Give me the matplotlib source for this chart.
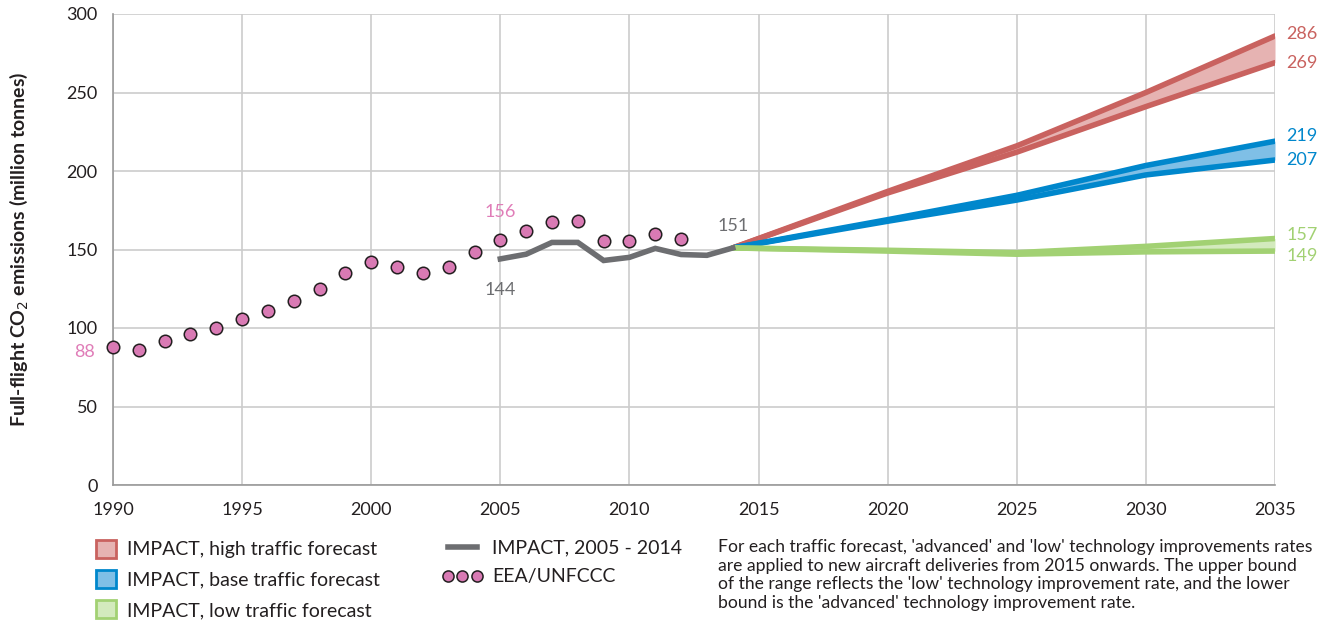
import matplotlib
matplotlib.use("Agg")
import matplotlib.pyplot as plt
from matplotlib.patches import Patch
from matplotlib.lines import Line2D

plt.rcParams['font.family'] = ['Lato', 'DejaVu Sans']

# EEA/UNFCCC historical
eea_years = list(range(1990, 2013))
eea_vals = [88, 86, 92, 96, 100, 106, 111, 117, 125, 135, 142, 139, 135, 139,
            148.5, 156, 162, 167.5, 168, 155.5, 155.5, 160, 157]

# IMPACT 2005-2014
imp_years = list(range(2005, 2015))
imp_vals = [144, 147, 154.5, 154.5, 143, 145, 150.7, 146.8, 146.3, 151]

# Forecasts
fc_years = [2014, 2020, 2025, 2030, 2035]
high_up = [151, 187, 216, 250, 286]
high_lo = [151, 186, 212, 241, 269]
base_up = [151, 169, 184.5, 203.5, 219]
base_lo = [151, 168, 181.5, 197.5, 207]
low_up = [151, 149.5, 148, 152, 157]
low_lo = [151, 149, 147, 148.5, 149]

x_ticks = [1990, 1995, 2000, 2005, 2010, 2015, 2020, 2025, 2030, 2035]
y_ticks = [0, 50, 100, 150, 200, 250, 300]

RED, RED_F = '#C9625F', '#E6B3B2'
BLUE, BLUE_F = '#0087CC', '#7FBFE6'
GREEN, GREEN_F = '#A2D173', '#D3EABD'
PINK, PINK_T = '#D97AB4', '#E07DB8'
GRAY = '#6D6E71'
TXT = '#231F20'

fig = plt.figure(figsize=(13.26, 6.25), dpi=100)
ax = fig.add_axes([113/1326, 1-485/625, (1275-113)/1326, (485-14)/625])

ax.set_xlim(1990, 2035)
ax.set_ylim(0, 300)
ax.set_xticks(x_ticks)
ax.set_yticks(y_ticks)
ax.grid(True, color='#CCCCCC', lw=1.2)
ax.set_axisbelow(True)
for s in ['top', 'right']:
    ax.spines[s].set_visible(False)
for s in ['left', 'bottom']:
    ax.spines[s].set_color('#999999')
    ax.spines[s].set_linewidth(1.2)
ax.tick_params(length=0, labelsize=13, colors=TXT)
ax.tick_params(axis='x', pad=12)
ax.tick_params(axis='y', pad=11)
ax.set_ylabel('Full-flight CO$_2$ emissions (million tonnes)', fontsize=14,
              fontweight='bold', color=TXT)
ax.yaxis.set_label_coords(-(113-30)/1162, 0.5)

for up, lo, c, f in [(high_up, high_lo, RED, RED_F), (base_up, base_lo, BLUE, BLUE_F),
                     (low_up, low_lo, GREEN, GREEN_F)]:
    ax.fill_between(fc_years, lo, up, color=f, lw=0, zorder=2)
    ax.plot(fc_years, up, color=c, lw=4, solid_capstyle='round', zorder=3)
    ax.plot(fc_years, lo, color=c, lw=4, solid_capstyle='round', zorder=3)

ax.plot(imp_years, imp_vals, color=GRAY, lw=4, solid_joinstyle='miter', zorder=4)
ax.plot(eea_years, eea_vals, ls='none', marker='o', ms=9, mfc=PINK, mec=TXT,
        mew=1.1, zorder=5, clip_on=False)

lab_kw = dict(fontsize=13, va='center')
ax.text(1989.3, eea_vals[0] - 3, '88', color=PINK_T, ha='right', **lab_kw)
ax.text(2005, 174, '156', color=PINK_T, ha='center', **lab_kw)
ax.text(2005, 124, '144', color=GRAY, ha='center', **lab_kw)
ax.text(2014, 165, '151', color=GRAY, ha='center', **lab_kw)
end_labels = [(high_up[-1], RED, 1), (high_lo[-1], RED, 0),
              (base_up[-1], BLUE, 3), (base_lo[-1], BLUE, 0),
              (low_up[-1], GREEN, 2), (low_lo[-1], GREEN, -3)]
for v, c, dy in end_labels:
    ax.text(2035.45, v + dy, str(v), color=c, ha='left', **lab_kw)

h1 = [Patch(facecolor=RED_F, edgecolor=RED, lw=2),
      Patch(facecolor=BLUE_F, edgecolor=BLUE, lw=2),
      Patch(facecolor=GREEN_F, edgecolor=GREEN, lw=2)]
l1 = ['IMPACT, high traffic forecast', 'IMPACT, base traffic forecast',
      'IMPACT, low traffic forecast']
leg1 = fig.legend(h1, l1, loc='upper left', bbox_to_anchor=(88/1326, 1-532/625),
                  frameon=False, fontsize=14, handlelength=1.05, handleheight=1.05,
                  handletextpad=0.55, labelspacing=0.6, labelcolor=TXT,
                  borderaxespad=0)
h2 = [Line2D([], [], color=GRAY, lw=4),
      Line2D([], [], ls='none', marker='o', ms=8, mfc=PINK, mec=TXT, mew=1.1)]
l2 = ['IMPACT, 2005 - 2014', 'EEA/UNFCCC']
leg2 = fig.legend(h2, l2, loc='upper left', bbox_to_anchor=(434/1326, 1-532/625),
                  frameon=False, fontsize=14, handlelength=2.1, numpoints=3,
                  handletextpad=0.5, labelspacing=0.6, labelcolor=TXT,
                  borderaxespad=0)

note = ("For each traffic forecast, 'advanced' and 'low' technology improvements rates\n"
        "are applied to new aircraft deliveries from 2015 onwards. The upper bound\n"
        "of the range reflects the 'low' technology improvement rate, and the lower\n"
        "bound is the 'advanced' technology improvement rate.")
fig.text(718/1326, 1-539/625, note, fontsize=12.6, color=TXT, va='top', ha='left',
         linespacing=1.2)

fig.savefig('out.png', dpi=100)
